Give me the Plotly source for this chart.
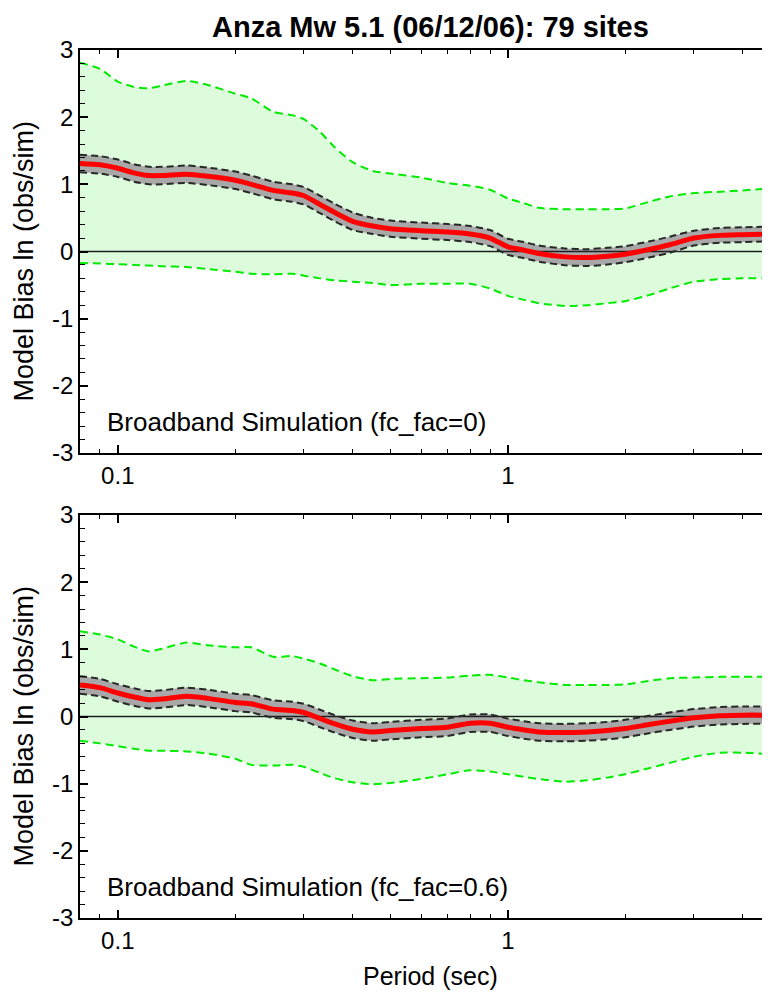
import numpy as np
import plotly.graph_objects as go

# ---------------- data ----------------
periods = [0.08, 0.09, 0.1, 0.11, 0.12, 0.13, 0.15, 0.17, 0.2, 0.22, 0.25, 0.28,
           0.3, 0.33, 0.36, 0.4, 0.45, 0.5, 0.6, 0.7, 0.8, 0.9, 1.0, 1.1, 1.2,
           1.4, 1.6, 1.8, 2.0, 2.3, 2.6, 3.0, 3.5, 4.0, 4.7]

# top panel: fc_fac=0
bias_top = [1.31, 1.29, 1.24, 1.17, 1.13, 1.13, 1.15, 1.12, 1.06, 1.00, 0.91, 0.87,
            0.83, 0.70, 0.58, 0.45, 0.38, 0.34, 0.31, 0.29, 0.26, 0.20, 0.07, 0.02,
            -0.03, -0.08, -0.09, -0.07, -0.04, 0.03, 0.10, 0.20, 0.24, 0.25, 0.26]
sigma_hi_top = [2.81, 2.72, 2.53, 2.45, 2.43, 2.47, 2.54, 2.48, 2.35, 2.28, 2.08, 2.03,
                1.97, 1.78, 1.55, 1.33, 1.20, 1.16, 1.10, 1.02, 0.98, 0.92, 0.79, 0.72,
                0.65, 0.63, 0.63, 0.63, 0.64, 0.74, 0.82, 0.87, 0.89, 0.91, 0.94]
sigma_lo_top = [-0.17, -0.18, -0.19, -0.20, -0.21, -0.22, -0.23, -0.26, -0.30, -0.33, -0.34, -0.33,
                -0.36, -0.40, -0.43, -0.45, -0.47, -0.50, -0.48, -0.48, -0.48, -0.55, -0.66, -0.72,
                -0.77, -0.81, -0.80, -0.77, -0.74, -0.65, -0.55, -0.45, -0.41, -0.40, -0.40]
ci_top = [0.13, 0.13, 0.13, 0.13, 0.13, 0.13, 0.13, 0.13, 0.13, 0.13, 0.13, 0.13,
          0.13, 0.13, 0.13, 0.13, 0.12, 0.12, 0.12, 0.12, 0.12, 0.12, 0.12, 0.12,
          0.12, 0.125, 0.125, 0.125, 0.12, 0.12, 0.12, 0.11, 0.11, 0.11, 0.11]

# bottom panel: fc_fac=0.6
bias_bot = [0.47, 0.43, 0.35, 0.29, 0.25, 0.26, 0.30, 0.27, 0.21, 0.19, 0.11, 0.09,
            0.06, -0.03, -0.11, -0.19, -0.23, -0.21, -0.18, -0.16, -0.10, -0.10, -0.16, -0.20,
            -0.23, -0.24, -0.23, -0.21, -0.18, -0.12, -0.07, -0.02, 0.01, 0.02, 0.02]
sigma_hi_bot = [1.27, 1.22, 1.15, 1.04, 0.97, 1.01, 1.10, 1.06, 1.03, 1.03, 0.89, 0.90,
                0.86, 0.79, 0.70, 0.60, 0.54, 0.56, 0.57, 0.58, 0.61, 0.62, 0.58, 0.54,
                0.51, 0.47, 0.47, 0.47, 0.48, 0.53, 0.57, 0.58, 0.59, 0.59, 0.59]
sigma_lo_bot = [-0.36, -0.40, -0.44, -0.48, -0.51, -0.51, -0.52, -0.55, -0.63, -0.72, -0.73, -0.72,
                -0.75, -0.84, -0.92, -0.98, -1.01, -0.99, -0.93, -0.86, -0.80, -0.82, -0.86, -0.90,
                -0.93, -0.97, -0.95, -0.91, -0.86, -0.77, -0.69, -0.60, -0.54, -0.54, -0.56]
ci_bot = [0.13] * len(periods)

x_ticks = [0.1, 1]
x_ticklabels = ["0.1", "1"]
x_minor = [0.09, 0.2, 0.3, 0.4, 0.5, 0.6, 0.7, 0.8, 0.9, 2, 3, 4]
y_ticks = [-3, -2, -1, 0, 1, 2, 3]
y_ticklabels = ["-3", "-2", "-1", "0", "1", "2", "3"]

title_text = "Anza Mw 5.1 (06/12/06): 79 sites"
panel_labels = ["Broadband Simulation (fc_fac=0)", "Broadband Simulation (fc_fac=0.6)"]

# ---------------- style ----------------
FONT = "Liberation Sans, Arial, Helvetica, sans-serif"
GREEN_FILL = "rgb(220,252,220)"
GREEN_LINE = "rgb(0,235,0)"
GRAY_FILL = "rgb(168,168,168)"
DASH_BLACK = "rgb(40,40,40)"

fig = go.Figure()

panels = [
    (bias_top, sigma_hi_top, sigma_lo_top, ci_top, "x", "y"),
    (bias_bot, sigma_hi_bot, sigma_lo_bot, ci_bot, "x2", "y2"),
]

for bias, shi, slo, ci, xa, ya in panels:
    b = np.array(bias)
    c = np.array(ci)
    common = dict(x=periods, xaxis=xa, yaxis=ya, showlegend=False, hoverinfo="skip", mode="lines")
    # green sigma band
    fig.add_trace(go.Scatter(y=slo, line=dict(width=0, color=GREEN_FILL, shape="spline", smoothing=0.6), **common))
    fig.add_trace(go.Scatter(y=shi, fill="tonexty", fillcolor=GREEN_FILL,
                             line=dict(width=0, color=GREEN_FILL, shape="spline", smoothing=0.6), **common))
    # gray confidence band
    fig.add_trace(go.Scatter(y=list(b - c), line=dict(width=0, color=GRAY_FILL, shape="spline", smoothing=0.6), **common))
    fig.add_trace(go.Scatter(y=list(b + c), fill="tonexty", fillcolor=GRAY_FILL,
                             line=dict(width=0, color=GRAY_FILL, shape="spline", smoothing=0.6), **common))
    # zero line
    fig.add_trace(go.Scatter(x=[periods[0], periods[-1]], y=[0, 0], xaxis=xa, yaxis=ya,
                             mode="lines", showlegend=False, hoverinfo="skip",
                             line=dict(color="rgb(30,30,30)", width=1.5)))
    # green dashed edges
    for arr in (shi, slo):
        fig.add_trace(go.Scatter(y=arr, line=dict(color=GREEN_LINE, width=2, dash="8px,5px",
                                                  shape="spline", smoothing=0.6), **common))
    # black dashed edges
    for arr in (b + c, b - c):
        fig.add_trace(go.Scatter(y=list(arr), line=dict(color=DASH_BLACK, width=2, dash="7px,4px",
                                                        shape="spline", smoothing=0.6), **common))
    # mean bias
    fig.add_trace(go.Scatter(y=bias, line=dict(color="rgb(255,0,0)", width=5,
                                               shape="spline", smoothing=0.6), **common))

xrange = [np.log10(periods[0]), np.log10(periods[-1])]
xaxis_common = dict(
    type="log", range=xrange, showline=True, linecolor="black", linewidth=1.5,
    mirror="ticks", ticks="inside", ticklen=8, tickwidth=1.5, tickcolor="black",
    tickvals=x_ticks, ticktext=x_ticklabels, showgrid=False, zeroline=False,
    tickfont=dict(family=FONT, size=24, color="black"),
    minor=dict(tickvals=x_minor, ticks="inside", ticklen=4, tickwidth=1.2,
               tickcolor="black", showgrid=False),
)
yaxis_common = dict(
    range=[-3, 3], showline=True, linecolor="black", linewidth=1.5,
    ticks="inside", ticklen=8, tickwidth=1.5, tickcolor="black",
    tickvals=y_ticks, ticktext=y_ticklabels, showgrid=False, zeroline=False,
    tickfont=dict(family=FONT, size=24, color="black"),
    minor=dict(dtick=0.2, ticks="inside", ticklen=5, tickwidth=1.2,
               tickcolor="black", showgrid=False),
)

# page body adds an 8px offset; work in screen pixels and convert
OFF = 8
W, H = 770 - OFF, 993 - OFF
ML, MR, MT, MB = 80 - OFF, 0, 50 - OFF, 993 - 918
plot_h = H - MT - MB
plot_w = W - ML - MR

def sx(px):  # screen px -> paper x
    return (px - OFF - ML) / plot_w

def sy(py):  # screen px -> paper y
    return (H - MB - (py - OFF)) / plot_h

top_dom = [sy(453), 1.0]
bot_dom = [0.0, sy(515)]

annotations = [
    dict(text="<b>" + title_text + "</b>", x=sx(431), y=sy(OFF + 1),
         xref="paper", yref="paper", showarrow=False, xanchor="center", yanchor="top",
         font=dict(family=FONT, size=29, color="black")),
    dict(text="Period (sec)", x=sx(431), y=sy(976),
         xref="paper", yref="paper", showarrow=False, xanchor="center", yanchor="middle",
         font=dict(family=FONT, size=25, color="black")),
    dict(text=panel_labels[0], x=sx(105), y=-2.54, xref="paper", yref="y",
         showarrow=False, xanchor="left", yanchor="middle",
         font=dict(family=FONT, size=26, color="black")),
    dict(text=panel_labels[1], x=sx(105), y=-2.54, xref="paper", yref="y2",
         showarrow=False, xanchor="left", yanchor="middle",
         font=dict(family=FONT, size=26, color="black")),
]
for ya_ref in ("y", "y2"):
    annotations.append(dict(text="Model Bias ln (obs/sim)", x=sx(24), y=-0.15,
                            xref="paper", yref=ya_ref, showarrow=False, textangle=-90,
                            xanchor="center", yanchor="middle",
                            font=dict(family=FONT, size=27, color="black")))

fig.update_layout(
    width=W, height=H,
    margin=dict(l=ML, r=MR, t=MT, b=MB),
    paper_bgcolor="white", plot_bgcolor="white",
    showlegend=False,
    xaxis=dict(domain=[0, 1], anchor="y", **xaxis_common),
    yaxis=dict(domain=top_dom, anchor="x", **yaxis_common),
    xaxis2=dict(domain=[0, 1], anchor="y2", **xaxis_common),
    yaxis2=dict(domain=bot_dom, anchor="x2", **yaxis_common),
    annotations=annotations,
)

fig.write_html("out.html")
